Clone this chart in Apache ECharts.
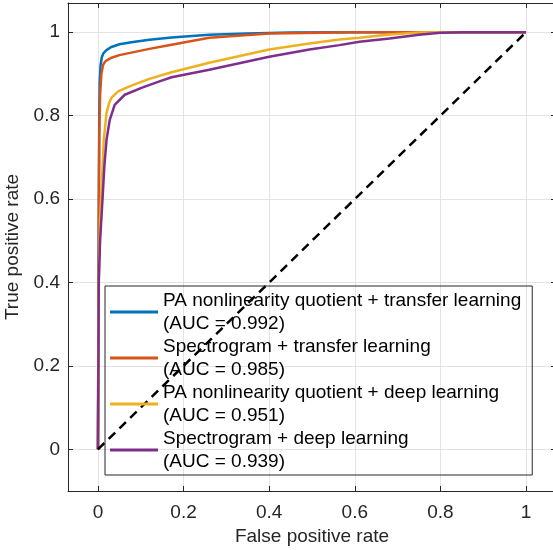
<!DOCTYPE html>
<html>
<head>
    <title>ROC curves</title>
    <meta charset="utf-8">
    <script src="https://cdn.jsdelivr.net/npm/echarts@6/dist/echarts.min.js"></script>
    <style>
        html, body { margin: 0; padding: 0; background: #fff; }
    </style>
</head>
<body>
    <div id="main" style="width: 553px;height:550px;"></div>

    <script type="text/javascript">
        // tick positions on both axes
        var xTicks = [0, 0.2, 0.4, 0.6, 0.8, 1];
        var yTicks = [0, 0.2, 0.4, 0.6, 0.8, 1];

        // legend names
        var names = [
            'PA nonlinearity quotient + transfer learning\n(AUC = 0.992)',
            'Spectrogram + transfer learning\n(AUC = 0.985)',
            'PA nonlinearity quotient + deep learning\n(AUC = 0.951)',
            'Spectrogram + deep learning\n(AUC = 0.939)'
        ];
        var colors = ['#0072BD', '#D95319', '#EDB120', '#7E2F8E'];

        // ROC points: false positive rate / true positive rate
        var fprA = [0, 0.001, 0.002, 0.003, 0.004, 0.006, 0.009, 0.013, 0.02, 0.03, 0.05, 0.078, 0.12, 0.172, 0.26, 0.35, 0.45, 0.6, 1];
        var tprA = [0, 0.3, 0.6, 0.8, 0.88, 0.92, 0.94, 0.95, 0.957, 0.964, 0.971, 0.976, 0.982, 0.987, 0.994, 0.997, 0.999, 1, 1];

        var fprB = [0, 0.001, 0.002, 0.003, 0.005, 0.008, 0.012, 0.018, 0.03, 0.05, 0.078, 0.12, 0.172, 0.26, 0.4, 0.6, 1];
        var tprB = [0, 0.3, 0.55, 0.75, 0.85, 0.9, 0.922, 0.931, 0.938, 0.945, 0.951, 0.96, 0.97, 0.9866, 0.997, 1, 1];

        var fprC = [0, 0.002, 0.005, 0.0075, 0.0136, 0.02, 0.026, 0.0315, 0.047, 0.078, 0.12, 0.172, 0.26, 0.4, 0.494, 0.564, 0.611, 0.681, 0.75, 0.8, 1];
        var tprC = [0, 0.4, 0.55, 0.606, 0.742, 0.8066, 0.83, 0.8425, 0.858, 0.872, 0.888, 0.904, 0.9266, 0.9585, 0.973, 0.9825, 0.9866, 0.9945, 0.999, 1, 1];

        var fprD = [0, 0.002, 0.005, 0.011, 0.015, 0.02, 0.0276, 0.039, 0.0626, 0.1016, 0.1437, 0.172, 0.26, 0.4, 0.494, 0.564, 0.611, 0.681, 0.75, 0.8, 0.85, 1];
        var tprD = [0, 0.406, 0.5, 0.606, 0.68, 0.742, 0.79, 0.826, 0.85, 0.8666, 0.882, 0.892, 0.91, 0.941, 0.9585, 0.969, 0.977, 0.985, 0.994, 0.9985, 1, 1];

        // chance line
        var chanceX = [0, 1];
        var chanceY = [0, 1];

        var curves = [[fprA, tprA], [fprB, tprB], [fprC, tprC], [fprD, tprD]];

        function pairs(xs, ys) {
            var out = [];
            for (var i = 0; i < xs.length; i++) {
                out.push([xs[i], ys[i]]);
            }
            return out;
        }

        var font = 'Liberation Sans, Arial, Helvetica, sans-serif';
        var axisColor = '#262626';

        function makeAxis(pos, min, max, ticks, showLabel, extra) {
            var ax = {
                type: 'value',
                position: pos,
                min: min,
                max: max,
                axisLine: { show: true, onZero: false, lineStyle: { color: axisColor, width: 1 } },
                axisTick: { show: true, inside: true, length: 5, customValues: ticks, lineStyle: { color: axisColor } },
                axisLabel: {
                    show: showLabel,
                    customValues: ticks,
                    color: axisColor,
                    fontSize: 19,
                    fontFamily: font,
                    margin: pos === 'bottom' ? 12 : 8
                },
                splitLine: { show: showLabel, lineStyle: { color: '#e3e3e3', width: 1 } }
            };
            for (var k in extra) ax[k] = extra[k];
            return ax;
        }

        var myChart = echarts.init(document.getElementById('main'));

        var series = [];
        for (var i = 0; i < curves.length; i++) {
            series.push({
                name: names[i],
                type: 'line',
                xAxisIndex: 0,
                yAxisIndex: 0,
                showSymbol: false,
                symbol: 'none',
                color: colors[i],
                lineStyle: { width: 2.5, color: colors[i] },
                data: pairs(curves[i][0], curves[i][1])
            });
        }
        series.push({
            name: 'chance',
            type: 'line',
            symbol: 'none',
            lineStyle: { color: '#000', width: 2.5, type: [9, 6] },
            data: pairs(chanceX, chanceY)
        });

        var option = {
            animation: false,
            grid: { left: 68, top: 3, width: 488, height: 488, outerBoundsMode: 'none', containLabel: false },
            xAxis: [
                makeAxis('bottom', -0.07, 1.07, xTicks, true, {
                    name: 'False positive rate',
                    nameLocation: 'middle',
                    nameGap: 35,
                    nameTextStyle: { color: axisColor, fontSize: 19, fontFamily: font }
                }),
                makeAxis('top', -0.07, 1.07, xTicks, false, {})
            ],
            yAxis: [
                makeAxis('left', -0.1, 1.07, yTicks, true, {
                    name: 'True positive rate',
                    nameLocation: 'middle',
                    nameGap: 37,
                    nameTextStyle: { color: axisColor, fontSize: 19, fontFamily: font }
                }),
                makeAxis('right', -0.1, 1.07, yTicks, false, {})
            ],
            legend: {
                data: names,
                orient: 'vertical',
                left: 105,
                top: 286,
                padding: [3, 11, 2, 5],
                itemGap: 0,
                itemWidth: 48,
                itemHeight: 3,
                icon: 'rect',
                borderColor: '#262626',
                borderWidth: 1,
                backgroundColor: 'transparent',
                textStyle: { color: '#000', fontSize: 19, lineHeight: 23, fontFamily: font }
            },
            series: series
        };

        myChart.setOption(option);
    </script>
</body>
</html>
